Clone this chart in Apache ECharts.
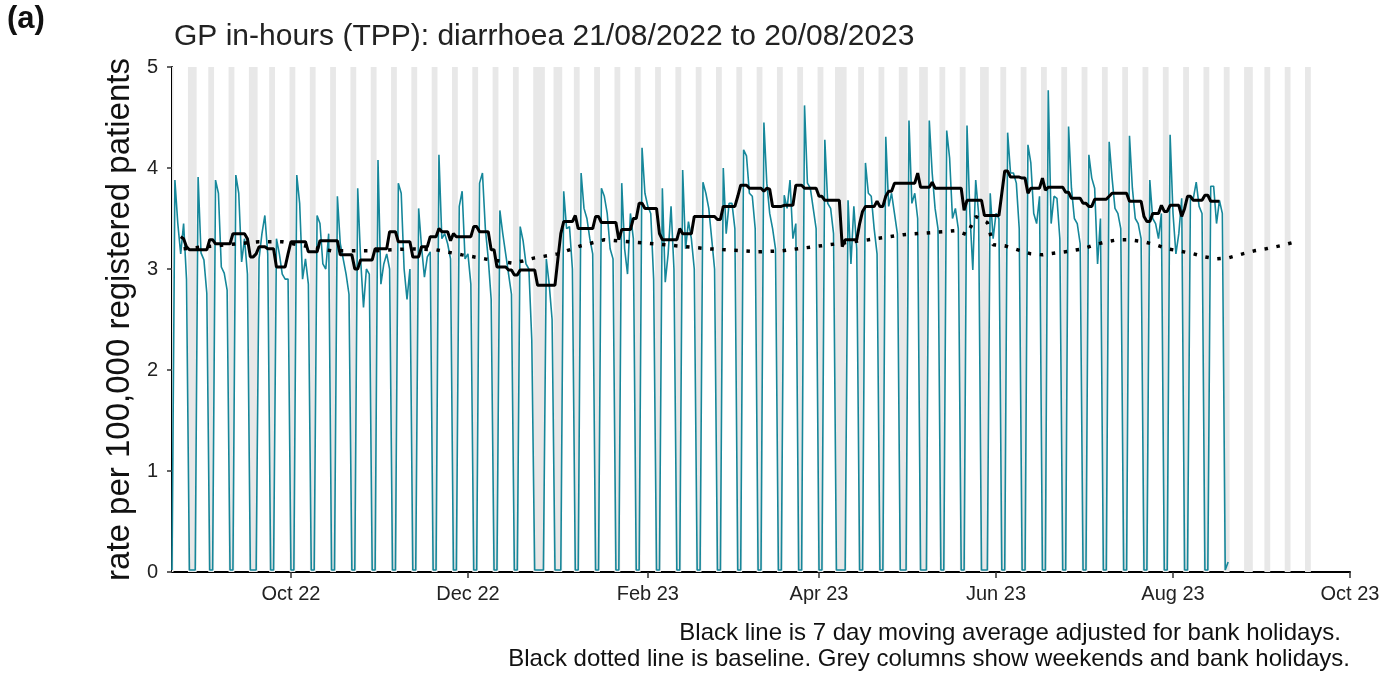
<!DOCTYPE html>
<html>
<head>
<meta charset="utf-8">
<script src="https://cdn.jsdelivr.net/npm/echarts@6/dist/echarts.min.js"></script>
<style>
html, body { margin: 0; padding: 0; background: #fff; }
#main { width: 1391px; height: 674px; }
</style>
</head>
<body>
<div id="main"></div>
<script>
var chartDom = document.getElementById('main');
var myChart = echarts.init(chartDom, null, { width: 1391, height: 674 });

// first day is Sun 21/08/2022, then one row per week Mon..Sun
var dailyRate = [
    0.02,
    3.88, 3.45, 3.15, 3.45, 2.90, 0.02, 0.02,
    0.02, 3.91, 3.16, 3.09, 2.76, 0.02, 0.02,
    3.88, 3.75, 3.02, 2.96, 2.79, 0.02, 0.02,
    3.93, 3.75, 3.07, 3.30, 2.95, 0.02, 0.02,
    0.02, 3.10, 3.35, 3.53, 3.15, 0.02, 0.02,
    3.30, 3.15, 2.95, 2.90, 2.90, 0.02, 0.02,
    3.93, 3.65, 2.90, 3.10, 2.85, 0.02, 0.02,
    3.53, 3.45, 3.05, 3.00, 3.35, 0.02, 0.02,
    3.72, 3.25, 3.10, 2.95, 2.75, 0.02, 0.02,
    3.80, 3.10, 2.62, 3.00, 2.95, 0.02, 0.02,
    4.08, 2.85, 3.05, 3.15, 3.00, 0.02, 0.02,
    3.85, 3.75, 3.00, 2.70, 3.00, 0.02, 0.02,
    3.60, 3.22, 2.92, 3.12, 3.17, 0.02, 0.02,
    4.13, 3.30, 3.35, 3.25, 3.10, 0.02, 0.02,
    3.62, 3.77, 3.10, 3.15, 2.85, 0.02, 0.02,
    3.85, 3.95, 3.40, 3.10, 2.70, 0.02, 0.02,
    3.58, 3.35, 3.15, 2.95, 2.75, 0.02, 0.02,
    3.42, 3.28, 3.05, 3.00, 2.30, 0.02, 0.02,
    0.02, 0.02, 3.10, 2.85, 2.50, 0.02, 0.02,
    0.02, 3.77, 3.40, 3.42, 3.00, 0.02, 0.02,
    3.95, 3.60, 3.50, 3.30, 3.15, 0.02, 0.02,
    3.80, 3.72, 3.55, 3.20, 3.10, 0.02, 0.02,
    3.85, 3.20, 2.95, 3.55, 3.30, 0.02, 0.02,
    4.20, 3.75, 3.62, 3.55, 2.90, 0.02, 0.02,
    3.80, 2.87, 3.15, 3.62, 3.00, 0.02, 0.02,
    3.98, 3.20, 3.47, 3.30, 3.00, 0.02, 0.02,
    3.86, 3.75, 3.60, 3.30, 3.00, 0.02, 0.02,
    4.00, 3.35, 3.65, 3.65, 3.40, 0.02, 0.02,
    4.18, 4.12, 3.75, 3.72, 3.40, 0.02, 0.02,
    4.45, 3.85, 3.55, 3.40, 3.20, 0.02, 0.02,
    3.73, 3.60, 3.88, 3.30, 3.45, 0.02, 0.02,
    4.62, 3.85, 3.80, 3.60, 3.40, 0.02, 0.02,
    4.28, 3.65, 3.60, 3.35, 0.02, 0.02, 0.02,
    0.02, 3.68, 3.05, 3.62, 3.20, 0.02, 0.02,
    4.05, 3.75, 3.72, 3.40, 3.15, 0.02, 0.02,
    4.31, 3.62, 3.75, 3.55, 3.35, 0.02, 0.02,
    0.02, 4.47, 3.65, 3.75, 3.50, 0.02, 0.02,
    0.02, 4.47, 3.95, 3.60, 3.40, 0.02, 0.02,
    4.37, 4.10, 3.50, 3.60, 3.40, 0.02, 0.02,
    4.42, 3.55, 2.99, 3.88, 3.55, 0.02, 0.02,
    0.02, 3.75, 3.30, 3.55, 3.50, 0.02, 0.02,
    4.35, 3.95, 3.95, 3.85, 3.40, 0.02, 0.02,
    4.23, 4.05, 3.55, 3.45, 3.72, 0.02, 0.02,
    4.77, 3.45, 3.72, 3.70, 3.30, 0.02, 0.02,
    4.41, 3.80, 3.50, 3.45, 3.25, 0.02, 0.02,
    4.13, 3.90, 3.80, 3.05, 3.50, 0.02, 0.02,
    4.26, 3.90, 3.60, 3.55, 3.40, 0.02, 0.02,
    4.32, 3.80, 3.50, 3.45, 3.30, 0.02, 0.02,
    3.88, 3.50, 3.45, 3.30, 3.55, 0.02, 0.02,
    4.33, 3.55, 3.15, 3.35, 3.70, 0.02, 0.02,
    3.72, 3.70, 3.86, 3.62, 3.55, 0.02, 0.02,
    3.82, 3.82, 3.45, 3.68, 3.55, 0.02, 0.10
];

// 7 day moving average, same day layout as dailyRate
var movingAvg = [
    null,
    null, null, 3.32, 3.30, 3.22, 3.19, 3.19,
    3.19, 3.19, 3.19, 3.19, 3.19, 3.29, 3.29,
    3.25, 3.25, 3.25, 3.25, 3.25, 3.25, 3.35,
    3.35, 3.35, 3.35, 3.35, 3.30, 3.12, 3.12,
    3.15, 3.22, 3.22, 3.22, 3.20, 3.20, 3.20,
    3.02, 3.02, 3.02, 3.02, 3.15, 3.27, 3.27,
    3.27, 3.27, 3.27, 3.27, 3.17, 3.17, 3.17,
    3.17, 3.28, 3.28, 3.28, 3.28, 3.28, 3.28,
    3.28, 3.14, 3.14, 3.14, 3.14, 3.14, 3.00,
    3.00, 3.09, 3.09, 3.09, 3.09, 3.09, 3.20,
    3.20, 3.20, 3.20, 3.20, 3.37, 3.37, 3.37,
    3.27, 3.27, 3.27, 3.27, 3.27, 3.12, 3.12,
    3.12, 3.22, 3.22, 3.22, 3.32, 3.32, 3.32,
    3.40, 3.37, 3.37, 3.37, 3.28, 3.35, 3.32,
    3.32, 3.32, 3.32, 3.32, 3.32, 3.42, 3.42,
    3.37, 3.37, 3.37, 3.37, 3.19, 3.19, 3.02,
    3.02, 3.02, 3.02, 2.99, 2.99, 2.94, 2.94,
    2.99, 2.99, 2.99, 2.99, 2.99, 2.99, 2.84,
    2.84, 2.84, 2.84, 2.84, 2.84, 2.84, 3.10,
    3.35, 3.47, 3.47, 3.47, 3.47, 3.53, 3.40,
    3.40, 3.40, 3.40, 3.40, 3.40, 3.52, 3.52,
    3.46, 3.46, 3.46, 3.46, 3.46, 3.46, 3.29,
    3.39, 3.39, 3.39, 3.39, 3.50, 3.50, 3.65,
    3.65, 3.60, 3.60, 3.60, 3.60, 3.60, 3.35,
    3.29, 3.29, 3.29, 3.29, 3.29, 3.29, 3.40,
    3.35, 3.35, 3.35, 3.35, 3.52, 3.52, 3.52,
    3.52, 3.52, 3.52, 3.52, 3.52, 3.49, 3.49,
    3.62, 3.62, 3.62, 3.62, 3.62, 3.72, 3.83,
    3.83, 3.83, 3.80, 3.80, 3.80, 3.80, 3.80,
    3.77, 3.80, 3.79, 3.62, 3.62, 3.62, 3.62,
    3.63, 3.63, 3.63, 3.63, 3.83, 3.83, 3.83,
    3.80, 3.80, 3.80, 3.80, 3.80, 3.72, 3.72,
    3.68, 3.68, 3.68, 3.68, 3.68, 3.68, 3.22,
    3.29, 3.29, 3.29, 3.29, 3.29, 3.45, 3.57,
    3.62, 3.62, 3.62, 3.62, 3.67, 3.62, 3.62,
    3.72, 3.77, 3.77, 3.85, 3.85, 3.85, 3.85,
    3.85, 3.85, 3.85, 3.85, 3.95, 3.81, 3.81,
    3.81, 3.81, 3.86, 3.80, 3.80, 3.80, 3.80,
    3.80, 3.80, 3.80, 3.80, 3.80, 3.80, 3.58,
    3.68, 3.68, 3.68, 3.68, 3.68, 3.68, 3.53,
    3.53, 3.53, 3.53, 3.53, 3.53, 3.75, 3.97,
    3.97, 3.91, 3.91, 3.91, 3.91, 3.90, 3.90,
    3.75, 3.80, 3.80, 3.80, 3.80, 3.90, 3.78,
    3.81, 3.81, 3.81, 3.81, 3.81, 3.81, 3.76,
    3.76, 3.70, 3.70, 3.70, 3.70, 3.65, 3.65,
    3.62, 3.62, 3.69, 3.69, 3.69, 3.69, 3.69,
    3.72, 3.75, 3.75, 3.75, 3.75, 3.75, 3.75,
    3.67, 3.67, 3.67, 3.67, 3.67, 3.52, 3.47,
    3.47, 3.55, 3.55, 3.55, 3.63, 3.57, 3.57,
    3.63, 3.63, 3.63, 3.63, 3.52, 3.60, 3.72,
    3.72, 3.68, 3.68, 3.68, 3.68, 3.73, 3.73,
    3.67, 3.67, 3.67, 3.67, null, null, null
];

var baselineDates = [
    '2022-08-25', '2022-09-20', '2022-09-28', '2022-10-15', '2022-10-30', '2022-11-11',
    '2022-11-20', '2022-11-29', '2022-12-07', '2022-12-16', '2022-12-20', '2022-12-24',
    '2023-01-01', '2023-01-09', '2023-01-17', '2023-01-30', '2023-02-07', '2023-02-22',
    '2023-03-11', '2023-03-19', '2023-03-30', '2023-04-10', '2023-04-18', '2023-04-23',
    '2023-04-30', '2023-05-14', '2023-05-18', '2023-05-22', '2023-05-25', '2023-05-29',
    '2023-05-30', '2023-05-31', '2023-06-04', '2023-06-13', '2023-06-17', '2023-06-22',
    '2023-06-27', '2023-07-01', '2023-07-05', '2023-07-09', '2023-07-13', '2023-07-17',
    '2023-07-22', '2023-07-26', '2023-07-30', '2023-08-03', '2023-08-08', '2023-08-12',
    '2023-08-16', '2023-08-20', '2023-08-25', '2023-08-29', '2023-09-02', '2023-09-07',
    '2023-09-11'
];
var baselineValues = [
    3.20, 3.27, 3.27, 3.18, 3.18, 3.20,
    3.19, 3.14, 3.10, 3.06, 3.08, 3.11,
    3.15, 3.23, 3.29, 3.26, 3.24, 3.20,
    3.17, 3.18, 3.22, 3.26, 3.29, 3.31,
    3.34, 3.37, 3.38, 3.34, 3.52, 3.46,
    3.35, 3.24, 3.23, 3.15, 3.14, 3.16,
    3.18, 3.20, 3.24, 3.27, 3.29, 3.29,
    3.27, 3.24, 3.20, 3.18, 3.15, 3.12,
    3.10, 3.11, 3.15, 3.18, 3.20, 3.23,
    3.26
];

var bankHolidays = [
    '2022-08-29', '2022-09-19', '2022-12-26', '2022-12-27', '2023-01-02',
    '2023-04-07', '2023-04-10', '2023-05-01', '2023-05-08', '2023-05-29', '2023-08-28'
];
var greyLastDay = '2023-09-17';

var tickDates = ['2022-10-01', '2022-12-01', '2023-02-01', '2023-04-01', '2023-06-01', '2023-08-01', '2023-10-01'];
var tickLabels = ['Oct 22', 'Dec 22', 'Feb 23', 'Apr 23', 'Jun 23', 'Aug 23', 'Oct 23'];

var DAY = 86400000;
function ts(s) {
    var p = s.split('-');
    return Date.UTC(+p[0], +p[1] - 1, +p[2]);
}
var t0 = ts('2022-08-21');
var xMax = ts('2023-10-01');

var rateData = dailyRate.map(function (v, i) { return [t0 + i * DAY, v]; });
var avgData = movingAvg.map(function (v, i) { return [t0 + i * DAY, v]; });
var baseData = baselineDates.map(function (d, i) { return [ts(d), baselineValues[i]]; });

// grey columns: weekends and bank holidays, merged into runs
var bh = bankHolidays.map(ts);
var greyAreas = [];
var runStart = null;
for (var t = t0; t <= ts(greyLastDay) + DAY; t += DAY) {
    var wd = new Date(t).getUTCDay();
    var off = (t <= ts(greyLastDay)) && (wd === 0 || wd === 6 || bh.indexOf(t) >= 0);
    if (off && runStart === null) runStart = t;
    if (!off && runStart !== null) {
        greyAreas.push([{ xAxis: Math.max(t0, runStart - DAY / 2) }, { xAxis: t - DAY / 2 }]);
        runStart = null;
    }
}

var tickTs = tickDates.map(ts);
var FONT = 'Liberation Sans, Arial, sans-serif';

var option = {
    animation: false,
    backgroundColor: '#ffffff',
    textStyle: { fontFamily: FONT },
    title: {
        text: 'GP in-hours (TPP): diarrhoea 21/08/2022 to 20/08/2023',
        left: 169,
        top: 17,
        textStyle: { fontFamily: FONT, fontSize: 30, fontWeight: 'normal', color: '#222' }
    },
    graphic: [
        {
            type: 'text', left: 7, top: 4,
            style: { text: '(a)', font: 'bold 31px ' + FONT, fill: '#111' }
        },
        {
            type: 'text', x: 1341, y: 621,
            style: { text: 'Black line is 7 day moving average adjusted for bank holidays.', font: '24px ' + FONT, fill: '#111', textAlign: 'right' }
        },
        {
            type: 'text', x: 1350, y: 647,
            style: { text: 'Black dotted line is baseline. Grey columns show weekends and bank holidays.', font: '24px ' + FONT, fill: '#111', textAlign: 'right' }
        }
    ],
    grid: { left: 172, right: 41, top: 67, bottom: 102 },
    xAxis: {
        type: 'value',
        min: t0,
        max: xMax,
        axisLine: { show: true, lineStyle: { color: '#000', width: 2 } },
        axisTick: { show: true, length: 6, lineStyle: { color: '#333', width: 1.5 }, customValues: tickTs },
        axisLabel: {
            customValues: tickTs,
            fontSize: 20,
            color: '#222',
            margin: 12,
            formatter: function (v) {
                var i = tickTs.indexOf(v);
                return i >= 0 ? tickLabels[i] : '';
            }
        },
        splitLine: { show: false }
    },
    yAxis: {
        type: 'value',
        min: 0,
        max: 5,
        interval: 1,
        name: 'rate per 100,000 registered patients',
        nameLocation: 'middle',
        nameGap: 35,
        nameTextStyle: { fontSize: 33, color: '#111', fontFamily: FONT },
        axisLine: { show: true, lineStyle: { color: '#000', width: 2 } },
        axisTick: { show: true, length: 5, lineStyle: { color: '#333', width: 1.5 } },
        axisLabel: { fontSize: 20, color: '#222', margin: 14 },
        splitLine: { show: false }
    },
    series: [
        {
            name: 'grey',
            type: 'line',
            data: [],
            silent: true,
            z: 1,
            markArea: {
                silent: true,
                itemStyle: { color: '#e8e8e8' },
                data: greyAreas
            }
        },
        {
            name: 'daily',
            type: 'line',
            data: rateData,
            showSymbol: false,
            z: 3,
            lineStyle: { color: '#16879a', width: 1.6 }
        },
        {
            name: 'baseline',
            type: 'line',
            data: baseData,
            showSymbol: false,
            z: 4,
            lineStyle: { color: '#000', width: 3.5, type: [3.5, 8.6], cap: 'butt' }
        },
        {
            name: 'moving average',
            type: 'line',
            data: avgData,
            showSymbol: false,
            connectNulls: false,
            z: 5,
            lineStyle: { color: '#000', width: 3 }
        }
    ]
};

option && myChart.setOption(option);
</script>
</body>
</html>
